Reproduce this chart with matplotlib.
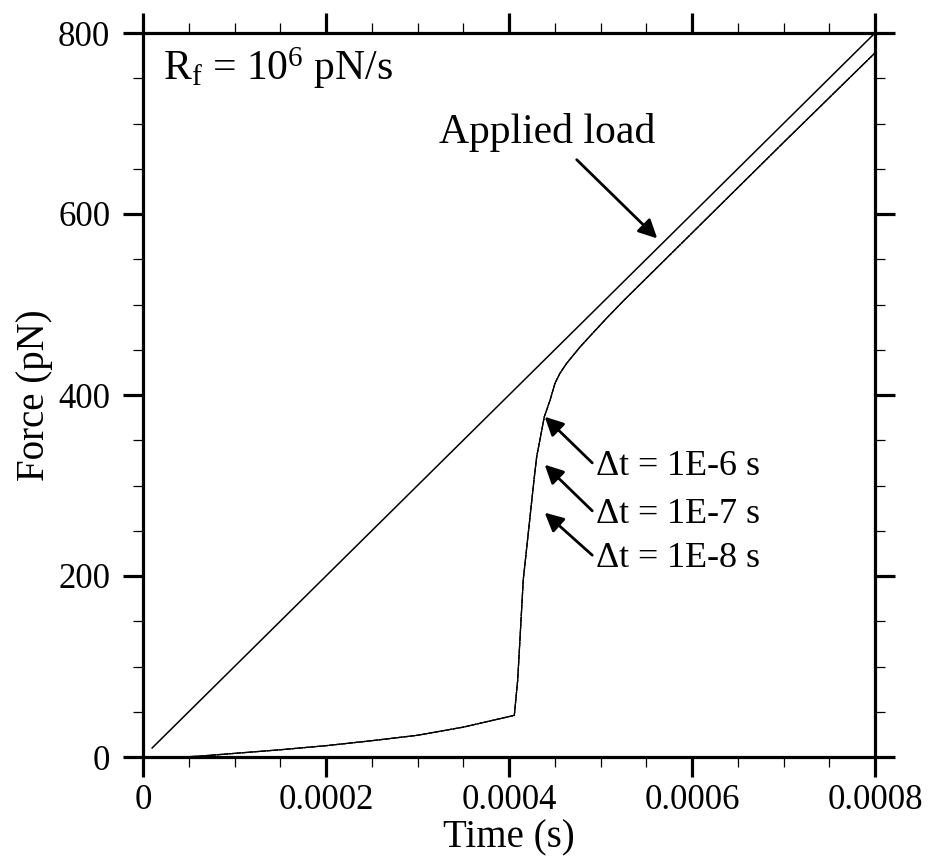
import numpy as np
import matplotlib.pyplot as plt

plt.rcParams['font.family'] = ['Liberation Serif', 'DejaVu Serif']
plt.rcParams['mathtext.fontset'] = 'custom'
plt.rcParams['mathtext.rm'] = 'Liberation Serif'
plt.rcParams['mathtext.it'] = 'Liberation Serif:italic'

# applied load F = Rf * t
load_t = [0.00001, 0.0008]
load_f = [10, 800]

# bond force (three time steps overlap)
resp_t = [0.00004, 0.00006, 0.0001, 0.00015, 0.0002, 0.00025, 0.0003, 0.00035,
          0.0004058, 0.0004095, 0.0004156, 0.0004273, 0.0004303, 0.0004386,
          0.0004448, 0.0004503, 0.0004557, 0.000463, 0.0004776, 0.0004921,
          0.0005068, 0.000525, 0.0006, 0.0007, 0.0008]
resp_f = [0, 0.8, 4, 8, 12.5, 18, 24, 33,
          46, 85, 196, 306, 332, 376,
          394, 413, 424, 435, 453, 469,
          485, 504, 579, 679, 778]

dt_labels = [r'$\Delta$t = 1E-6 s', r'$\Delta$t = 1E-7 s', r'$\Delta$t = 1E-8 s']
dt_text_f = [321, 268, 219]
dt_tip_f = [376, 323, 270]

fig = plt.figure(figsize=(9.3, 8.6), dpi=100)
ax = fig.add_axes([143/930, 103/860, 732/930, 724/860])

ax.plot(load_t, load_f, color='black', lw=1.1)
styles = ['-', (0, (4, 1)), (0, (1, 1))]
for ls in styles:
    ax.plot(resp_t, resp_f, color='black', lw=0.9, ls=ls)

ax.set_xlim(0, 0.0008)
ax.set_ylim(0, 800)
ax.set_xticks([0, 0.0002, 0.0004, 0.0006, 0.0008])
ax.set_xticklabels(['0', '0.0002', '0.0004', '0.0006', '0.0008'])
ax.set_yticks([0, 200, 400, 600, 800])
ax.set_xticks(np.arange(0, 0.00081, 0.00005), minor=True)
ax.set_yticks(np.arange(0, 801, 50), minor=True)

for s in ax.spines.values():
    s.set_linewidth(2.3)
ax.tick_params(which='major', direction='out', length=14.5, width=2.3,
               labelsize=25, top=True, right=True, pad=5)
ax.tick_params(which='minor', direction='out', length=7.2, width=0.9,
               top=True, right=True)
ax.tick_params(axis='y', which='major', pad=9)

ax.set_xlabel('Time (s)', fontsize=28, labelpad=2)
ax.set_ylabel('Force (pN)', fontsize=28, labelpad=4)

ax.text(0.000022, 761, r'R$_\mathrm{f}$ = 10$^6$ pN/s', fontsize=30,
        va='center', ha='left')

ax.text(0.000442, 690, 'Applied load', fontsize=30, ha='center', va='center')
ax.annotate('', xy=(0.000562, 573), xytext=(0.000474, 660),
            arrowprops=dict(arrowstyle='-|>', color='black', lw=2,
                            mutation_scale=28, shrinkA=0, shrinkB=0))

for lab, yf, tip in zip(dt_labels, dt_text_f, dt_tip_f):
    ax.text(0.000494, yf, lab, fontsize=26, ha='left', va='center')
    ax.annotate('', xy=(0.000439, tip), xytext=(0.000491, yf + 4),
                arrowprops=dict(arrowstyle='-|>', color='black', lw=2,
                                mutation_scale=28, shrinkA=0, shrinkB=0))

fig.savefig('out.png', dpi=100)
